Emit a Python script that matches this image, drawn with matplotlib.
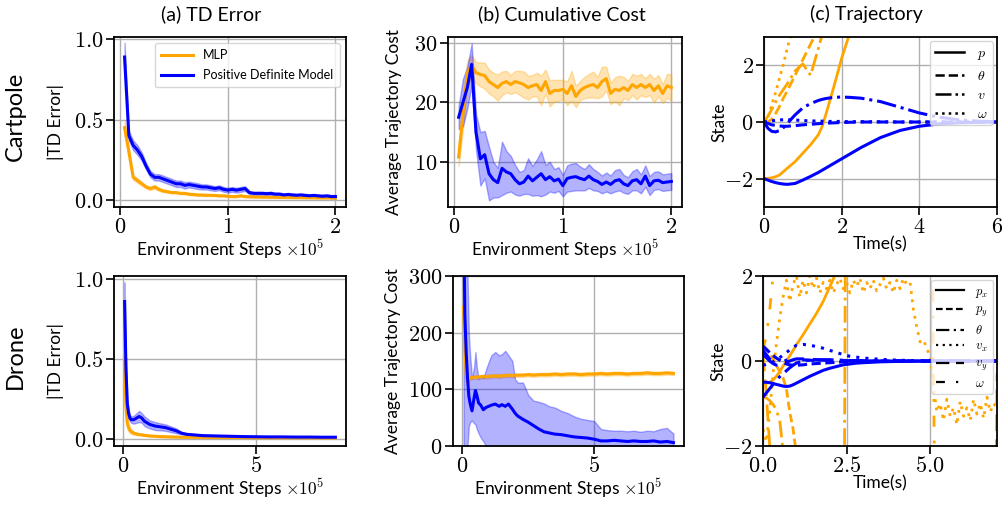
import numpy as np
import matplotlib
matplotlib.use('Agg')
import matplotlib.pyplot as plt
from matplotlib.lines import Line2D

plt.rcParams['font.family'] = ['Lato', 'DejaVu Sans']
plt.rcParams['mathtext.fontset'] = 'cm'

ORANGE = '#FFA500'
BLUE = '#0000FF'

# ---------------- Cartpole learning curves (x in 1e5 env steps) ----------------
steps_cp = [0.04, 0.08, 0.12, 0.16, 0.20, 0.24, 0.28, 0.32, 0.36, 0.40,
            0.44, 0.48, 0.52, 0.56, 0.60, 0.64, 0.68, 0.72, 0.76, 0.80,
            0.84, 0.88, 0.92, 0.96, 1.00, 1.04, 1.08, 1.12, 1.16, 1.20,
            1.24, 1.28, 1.32, 1.36, 1.40, 1.44, 1.48, 1.52, 1.56, 1.60,
            1.64, 1.68, 1.72, 1.76, 1.80, 1.84, 1.88, 1.92, 1.96, 2.00]

td_pd_cp = [0.89, 0.40, 0.34, 0.31, 0.27, 0.21, 0.16, 0.14, 0.14, 0.13,
            0.12, 0.11, 0.10, 0.10, 0.09, 0.095, 0.09, 0.085, 0.08, 0.08,
            0.075, 0.07, 0.075, 0.065, 0.06, 0.065, 0.06, 0.065, 0.07, 0.045,
            0.04, 0.04, 0.04, 0.038, 0.04, 0.035, 0.035, 0.03, 0.033, 0.03,
            0.028, 0.03, 0.027, 0.025, 0.027, 0.024, 0.022, 0.024, 0.02, 0.02]
td_pd_cp_sd = [0.09, 0.03, 0.03, 0.03, 0.025, 0.02, 0.02, 0.02, 0.02, 0.02,
               0.02, 0.02, 0.02, 0.02, 0.02, 0.018, 0.018, 0.018, 0.016, 0.016,
               0.016, 0.015, 0.015, 0.015, 0.015, 0.015, 0.015, 0.015, 0.015, 0.01,
               0.01, 0.01, 0.01, 0.01, 0.01, 0.01, 0.01, 0.01, 0.01, 0.01,
               0.01, 0.01, 0.01, 0.01, 0.01, 0.01, 0.01, 0.01, 0.01, 0.01]
td_mlp_cp = [0.45, 0.30, 0.14, 0.12, 0.10, 0.08, 0.07, 0.08, 0.065, 0.055,
             0.05, 0.045, 0.045, 0.04, 0.04, 0.035, 0.033, 0.03, 0.03, 0.028,
             0.028, 0.027, 0.025, 0.025, 0.022, 0.02, 0.02, 0.025, 0.02, 0.019,
             0.018, 0.018, 0.017, 0.017, 0.016, 0.016, 0.015, 0.015, 0.015, 0.014,
             0.014, 0.014, 0.013, 0.013, 0.013, 0.012, 0.012, 0.012, 0.012, 0.011]
td_mlp_cp_sd = [0.05, 0.03, 0.015, 0.015, 0.012, 0.01, 0.01, 0.012, 0.01, 0.008,
                0.006, 0.006, 0.006, 0.006, 0.006, 0.006, 0.006, 0.006, 0.006, 0.006,
                0.005, 0.005, 0.005, 0.005, 0.005, 0.005, 0.005, 0.005, 0.005, 0.005,
                0.005, 0.005, 0.005, 0.005, 0.005, 0.005, 0.005, 0.005, 0.005, 0.005,
                0.005, 0.005, 0.005, 0.005, 0.005, 0.005, 0.005, 0.005, 0.005, 0.005]

cost_pd_cp = [17.5, 20.0, 22.5, 26.4, 15.0, 10.5, 11.2, 8.0, 7.0, 6.5,
              8.9, 8.3, 8.0, 7.0, 6.3, 6.6, 7.6, 6.8, 7.4, 8.0,
              7.0, 7.5, 6.8, 7.1, 6.0, 7.2, 7.4, 7.5, 7.2, 7.0,
              7.6, 7.0, 6.7, 6.2, 6.6, 6.2, 6.8, 7.0, 6.3, 6.0,
              6.8, 7.0, 6.3, 7.6, 6.0, 6.8, 6.9, 6.5, 6.6, 6.7]
cost_pd_cp_sd = [2.0, 4.0, 3.5, 3.5, 3.0, 4.5, 4.0, 4.5, 3.0, 2.5,
                 4.5, 3.5, 3.0, 2.5, 2.0, 2.0, 3.0, 2.5, 3.0, 3.8,
                 2.5, 2.5, 2.0, 2.0, 1.8, 2.2, 2.3, 2.3, 2.0, 1.8,
                 2.0, 1.8, 1.6, 1.5, 1.6, 1.5, 1.8, 1.8, 1.5, 1.4,
                 1.6, 1.8, 1.6, 1.8, 1.6, 1.5, 1.5, 1.4, 1.4, 1.4]
cost_mlp_cp = [10.8, 18.0, 25.0, 26.2, 25.0, 24.7, 24.5, 23.5, 23.0, 22.5,
               23.2, 23.5, 23.0, 23.5, 23.3, 23.0, 22.5, 22.8, 23.0, 22.0,
               23.5, 21.5, 22.0, 22.0, 22.2, 21.5, 22.8, 21.0, 22.0, 22.5,
               22.8, 23.0, 22.5, 23.5, 24.0, 21.5, 22.2, 22.0, 22.5, 22.0,
               23.0, 22.5, 23.0, 22.5, 23.0, 22.0, 22.8, 21.5, 22.8, 22.5]
cost_mlp_cp_sd = [1.5, 2.5, 2.0, 1.8, 1.8, 2.0, 2.2, 2.0, 2.0, 2.2,
                  2.0, 1.8, 1.6, 1.8, 2.0, 2.2, 2.0, 1.8, 2.0, 2.5,
                  2.0, 2.2, 1.8, 1.8, 1.6, 2.0, 2.5, 1.8, 1.6, 1.8,
                  2.0, 2.2, 1.8, 2.5, 2.0, 1.8, 2.0, 2.5, 1.8, 1.6,
                  1.8, 2.0, 1.8, 1.6, 1.8, 2.0, 1.8, 1.6, 2.0, 2.2]

# ---------------- Drone learning curves ----------------
steps_dr_td = [0.05, 0.1, 0.15, 0.2, 0.25, 0.3, 0.4, 0.5, 0.6, 0.7,
               0.8, 0.9, 1.0, 1.2, 1.4, 1.6, 1.8, 2.0, 2.2, 2.4,
               2.7, 3.0, 3.5, 4.0, 4.5, 5.0, 5.5, 6.0, 6.5, 7.0, 7.5, 8.0]
td_pd_dr = [0.86, 0.45, 0.22, 0.16, 0.13, 0.12, 0.12, 0.13, 0.14, 0.13,
            0.11, 0.10, 0.09, 0.08, 0.075, 0.07, 0.06, 0.05, 0.035, 0.028,
            0.024, 0.02, 0.018, 0.016, 0.014, 0.013, 0.012, 0.012, 0.011, 0.011, 0.010, 0.010]
td_pd_dr_sd = [0.12, 0.06, 0.04, 0.03, 0.02, 0.02, 0.025, 0.03, 0.035, 0.03,
               0.03, 0.028, 0.025, 0.025, 0.022, 0.02, 0.018, 0.015, 0.008, 0.006,
               0.005, 0.005, 0.004, 0.004, 0.004, 0.004, 0.004, 0.004, 0.004, 0.004, 0.004, 0.004]
td_mlp_dr = [0.5, 0.2, 0.1, 0.07, 0.055, 0.045, 0.035, 0.03, 0.027, 0.025,
             0.022, 0.02, 0.018, 0.016, 0.014, 0.013, 0.012, 0.011, 0.01, 0.01,
             0.009, 0.009, 0.008, 0.008, 0.008, 0.007, 0.007, 0.007, 0.007, 0.007, 0.006, 0.006]
td_mlp_dr_sd = [0.1, 0.06, 0.04, 0.025, 0.02, 0.015, 0.01, 0.008, 0.007, 0.006,
                0.005, 0.005, 0.005, 0.004, 0.004, 0.004, 0.004, 0.004, 0.003, 0.003,
                0.003, 0.003, 0.003, 0.003, 0.003, 0.003, 0.003, 0.003, 0.003, 0.003, 0.003, 0.003]

steps_dr_cost = [0.05, 0.1, 0.15, 0.2, 0.25, 0.3, 0.37, 0.45, 0.5, 0.55,
                 0.62, 0.7, 0.8, 0.9, 1.0, 1.1, 1.25, 1.4, 1.5, 1.63,
                 1.75, 1.9, 2.0, 2.1, 2.3, 2.5, 2.7, 2.9, 3.1, 3.3,
                 3.5, 3.75, 4.0, 4.25, 4.5, 4.75, 5.0, 5.25, 5.5, 5.75,
                 6.0, 6.25, 6.5, 6.75, 7.0, 7.25, 7.5, 7.75, 8.0]
cost_pd_dr = [420, 230, 165, 120, 88, 75, 62, 85, 98, 90,
              76, 72, 64, 68, 70, 72, 74, 70, 73, 70,
              74, 65, 58, 53, 47, 42, 36, 30, 25, 23,
              21, 20, 18, 16, 15, 14, 12, 9, 9, 10,
              9, 8, 9, 8, 8, 9, 7, 8, 6]
cost_pd_dr_hi = [600, 500, 400, 300, 200, 160, 120, 140, 166, 140,
                 118, 125, 120, 135, 148, 160, 166, 160, 162, 168,
                 160, 150, 118, 112, 112, 90, 80, 78, 75, 70,
                 68, 62, 58, 52, 48, 46, 44, 30, 28, 27,
                 27, 26, 27, 25, 27, 26, 30, 32, 22]
cost_pd_dr_lo = [-100, -50, -30, 0, 35, 42, 45, 40, 38, 30,
                 22, 15, 8, 0, -5, -10, -15, -20, -20, -25,
                 -20, -20, -20, -20, -20, -20, -20, -20, -20, -20,
                 -20, -20, -20, -20, -20, -20, -20, -20, -20, -20,
                 -20, -20, -20, -20, -20, -20, -20, -20, -20]
cost_mlp_dr = [245, 180, 125, 112, 118, 120, 121, 121, 122, 121,
               122, 122, 123, 122, 123, 123, 124, 123, 124, 124,
               125, 124, 125, 125, 125, 126, 125, 126, 126, 126,
               127, 126, 127, 127, 126, 127, 127, 128, 127, 128,
               128, 127, 128, 128, 129, 128, 128, 129, 128]
cost_mlp_dr_sd = [30, 20, 10, 5, 3, 3, 3, 3, 3, 3,
                  3, 3, 3, 3, 3, 3, 3, 3, 3, 3,
                  3, 3, 3, 3, 3, 3, 3, 3, 3, 3,
                  3, 3, 3, 3, 3, 3, 3, 3, 3, 3,
                  3, 3, 3, 3, 3, 3, 3, 3, 3]

# ---------------- Cartpole trajectories ----------------
t_cp = [0, 0.1, 0.2, 0.3, 0.4, 0.5, 0.6, 0.8, 1.0, 1.2, 1.4, 1.5,
        1.6, 1.8, 2.0, 2.2, 2.5, 3.0, 3.5, 4.0, 4.5, 5.0, 5.5, 6.0]
cp_mlp = {
    'p':     [-2.0, -1.99, -1.97, -1.93, -1.87, -1.75, -1.63, -1.4, -1.1, -0.8, -0.45, -0.15,
              0.3, 1.25, 2.25, 3.1, 4.3, 6, 8, 10, 12, 14, 16, 18],
    'theta': [0, 0.0, 0.1, 0.3, 0.55, 0.85, 1.1, 1.65, 2.2, 2.75, 3.3, 3.6,
              3.9, 4.5, 5.1, 5.7, 6.5, 8, 9.5, 11, 12.5, 14, 15.5, 17],
    'v':     [0, 0.2, 0.45, 0.7, 0.95, 1.15, 1.35, 1.8, 2.05, 1.65, 2.6, 3.1,
              3.6, 4.5, 5.5, 6.5, 8, 10, 12, 14, 16, 18, 20, 22],
    'omega': [0, 0.15, 0.6, 1.05, 1.55, 2.05, 2.6, 3.7, 4.8, 6, 7, 7.5,
              8, 9, 10, 11, 12, 13, 14, 15, 16, 17, 18, 19],
}
cp_pd = {
    'p':     [-2.0, -2.05, -2.1, -2.14, -2.17, -2.19, -2.2, -2.17, -2.05, -1.92, -1.78, -1.7,
              -1.62, -1.46, -1.3, -1.14, -0.9, -0.55, -0.3, -0.15, -0.07, -0.03, -0.01, 0.0],
    'theta': [0, -0.05, -0.1, -0.12, -0.14, -0.15, -0.15, -0.13, -0.1, -0.08, -0.06, -0.05,
              -0.04, -0.03, -0.02, -0.01, 0, 0, 0, 0, 0, 0, 0, 0],
    'v':     [0, -0.22, -0.33, -0.35, -0.3, -0.2, -0.05, 0.25, 0.5, 0.65, 0.76, 0.8,
              0.83, 0.87, 0.88, 0.87, 0.84, 0.72, 0.52, 0.32, 0.17, 0.08, 0.03, 0.01],
    'omega': [0, 0.02, 0.04, 0.06, 0.07, 0.08, 0.08, 0.07, 0.05, 0.04, 0.03, 0.03,
              0.02, 0.02, 0.02, 0.01, 0.01, 0.01, 0, 0, 0, 0, 0, 0],
}
cp_labels = ['$p$', r'$\theta$', '$v$', r'$\omega$']

# ---------------- Drone trajectories ----------------
t_dr = [0, 0.1, 0.2, 0.3, 0.4, 0.5, 0.6, 0.7, 0.8, 0.9, 1.0, 1.2, 1.4, 1.6, 1.8, 2.0,
        2.2, 2.4, 2.5, 2.6, 2.8, 3.0, 3.5, 4.0, 4.5, 5.0, 5.1, 5.2, 5.5, 6.0, 6.5, 6.9, 7.0]
dr_pd = {
    'px':    [-0.5, -0.5, -0.51, -0.53, -0.55, -0.57, -0.59, -0.6, -0.59, -0.56, -0.52, -0.44,
              -0.36, -0.29, -0.22, -0.17, -0.13, -0.09, -0.08, -0.07, -0.05, -0.04, -0.02,
              -0.01, -0.005, 0, 0, 0, 0, 0, 0, 0, 0],
    'py':    [0.35, 0.27, 0.2, 0.13, 0.07, 0.02, -0.03, -0.07, -0.09, -0.1, -0.1, -0.09,
              -0.07, -0.06, -0.05, -0.04, -0.03, -0.02, -0.02, -0.015, -0.01, -0.01, 0,
              0, 0, 0, 0, 0, 0, 0, 0, 0, 0],
    'theta': [-0.85, -0.75, -0.65, -0.55, -0.45, -0.37, -0.3, -0.23, -0.16, -0.1, -0.05, 0.0,
              0.02, 0.03, 0.03, 0.03, 0.02, 0.02, 0.02, 0.01, 0.01, 0.01, 0,
              0, 0, 0, 0, 0, 0, 0, 0, 0, 0],
    'vx':    [-0.1, -0.08, -0.05, -0.02, 0.03, 0.08, 0.14, 0.2, 0.26, 0.32, 0.37, 0.39,
              0.37, 0.34, 0.3, 0.25, 0.2, 0.15, 0.13, 0.11, 0.09, 0.07, 0.04,
              0.02, 0.01, 0, 0, 0, 0, 0, 0, 0, 0],
    'vy':    [0.15, 0.08, 0.0, -0.06, -0.1, -0.1, -0.07, -0.03, 0.0, 0.03, 0.05, 0.05,
              0.04, 0.03, 0.02, 0.02, 0.01, 0.01, 0.01, 0, 0, 0, 0,
              0, 0, 0, 0, 0, 0, 0, 0, 0, 0],
    'omega': [0.25, 0.15, 0.05, -0.02, -0.05, -0.05, -0.02, 0.02, 0.05, 0.06, 0.05, 0.03,
              0.02, 0.01, 0.01, 0, 0, 0, 0, 0, 0, 0, 0,
              0, 0, 0, 0, 0, 0, 0, 0, 0, 0],
}
dr_mlp = {
    'px':    [-0.5, -0.52, -0.5, -0.45, -0.36, -0.25, -0.12, 0.0, 0.12, 0.25, 0.38, 0.62,
              0.87, 1.12, 1.4, 1.75, 2.1, 2.5, 2.7, 2.9, 3.3, 3.7, 4.7,
              5.7, 6.7, 7.7, 7.9, 8.1, 8.7, 9.7, 10.7, 11.5, 11.7],
    'py':    [0.35, 0.3, 0.2, 0.05, -0.1, -0.25, -0.4, -0.65, -1.2, -1.6, -2.2, -3.5,
              -4.5, -5.5, -6.5, -7, -7.5, -8, -8, -8, -8, -8, -8,
              -8, -8, -8, -8, -8, -8, -8, -8, -8, -8],
    'theta': [-0.85, -0.87, -0.93, -1.02, -1.15, -1.4, -2.1, -3.0, -4, -5, -6, -7,
              -7.5, -8, -8, -8, -8, -9, 9, 9, 9, 9, 9,
              9, 9, 9, 9, 9, 9, 9, 9, 9, 9],
    'vy':    [0.15, -0.8, -2.0, -3.5, -5, -6, -7, -8, -9, -9, -9, -9,
              -9, -9, -9, -9, -9, -9, -9, -9, -9, -9, -9,
              -9, -9, -9, -9, -9, -9, -9, -9, -9, -0.3],
    'omega': [0.25, 0.6, 1.2, 2.0, 3.0, 4.0, 5.0, 6.0, 7.0, 8.0, 9.0, 9.0,
              9, 9, 9, 9, 9, 9, 9, 9, 9, 9, 9,
              9, 9, 9, 0, -9, -9, -9, -9, -9, -9],
}
t_dr_fine = [0.0, 0.1, 0.2, 0.3, 0.4, 0.5, 0.6, 0.7, 0.8, 0.9,
             1.0, 1.1, 1.2, 1.3, 1.4, 1.5, 1.6, 1.7, 1.8, 1.9,
             2.0, 2.1, 2.2, 2.3, 2.4, 2.5, 2.6, 2.7, 2.8, 2.9,
             3.0, 3.1, 3.2, 3.3, 3.4, 3.5, 3.6, 3.7, 3.8, 3.9,
             4.0, 4.1, 4.2, 4.3, 4.4, 4.5, 4.6, 4.7, 4.8, 4.9,
             5.0, 5.1, 5.2, 5.3, 5.4, 5.5, 5.6, 5.7, 5.8, 5.9,
             6.0, 6.1, 6.2, 6.3, 6.4, 6.5, 6.6, 6.7, 6.8, 6.9, 7.0]
dr_mlp_vx = [-1.6, -1.9, -1.2, -0.3, 0.4, 1.0, 1.5, 1.9, 1.4, 1.8,
             2.0, 1.5, 1.9, 1.6, 2.0, 1.7, 1.95, 1.6, 1.85, 1.7,
             1.9, 1.6, 1.8, 1.95, 1.7, 1.85, 1.6, 1.9, 1.75, 1.95,
             1.6, 1.85, 1.7, 1.9, 1.65, 1.8, 1.95, 1.7, 1.85, 1.6,
             1.9, 1.7, 1.95, 1.8, 1.85, 1.2, 0.8, 0.45, 0.5, 0.3,
             0.1, -0.6, -1.2, -1.0, -1.4, -0.9, -1.3, -1.1, -1.5, -0.95,
             -1.3, -1.1, -1.4, -0.9, -1.25, -1.0, -1.35, -0.85, -1.2, -1.0, -1.1]
dr_labels = ['$p_x$', '$p_y$', r'$\theta$', '$v_x$', '$v_y$', r'$\omega$']

# ---------------- tick labels ----------------
ticks_td = [0.0, 0.5, 1.0]
ticklab_td = ['$0.0$', '$0.5$', '$1.0$']
ticks_cp_x = [0, 1, 2]
ticklab_cp_x = ['$0$', '$1$', '$2$']
ticks_dr_x = [0, 5]
ticklab_dr_x = ['$0$', '$5$']
ticks_cost_cp = [10, 20, 30]
ticklab_cost_cp = ['$10$', '$20$', '$30$']
ticks_cost_dr = [0, 100, 200, 300]
ticklab_cost_dr = ['$0$', '$100$', '$200$', '$300$']
ticks_state_cp_y = [-2, 0, 2]
ticklab_state_cp_y = ['$-2$', '$0$', '$2$']
ticks_state_cp_x = [0, 2, 4, 6]
ticklab_state_cp_x = ['$0$', '$2$', '$4$', '$6$']
ticks_state_dr_y = [-2, 0, 2]
ticklab_state_dr_y = ['$-2$', '$0$', '$2$']
ticks_state_dr_x = [0.0, 2.5, 5.0]
ticklab_state_dr_x = ['$0.0$', '$2.5$', '$5.0$']

# ---------------- figure ----------------
W, Hp = 1002, 505
fig = plt.figure(figsize=(W / 100, Hp / 100), dpi=100)
h = 170 / Hp
b1 = 1 - 207 / Hp
b2 = 1 - 446 / Hp
ax_a1 = fig.add_axes([114 / W, b1, 232 / W, h])
ax_b1 = fig.add_axes([448 / W, b1, 234 / W, h])
ax_c1 = fig.add_axes([764 / W, b1, 233 / W, h])
ax_a2 = fig.add_axes([114 / W, b2, 232 / W, h])
ax_b2 = fig.add_axes([453 / W, b2, 231 / W, h])
ax_c2 = fig.add_axes([763 / W, b2, 234 / W, h])

TICKFS = 16
LABFS = 12.5
TITFS = 14


def style(ax):
    ax.grid(True, color='#b0b0b0', lw=1)
    ax.set_axisbelow(True)
    for s in ax.spines.values():
        s.set_linewidth(1.3)
    ax.tick_params(length=5.5, width=1.2, pad=2.0, labelsize=TICKFS)


def band(ax, x, m, sd, color):
    m = np.asarray(m, float)
    sd = np.asarray(sd, float)
    ax.fill_between(x, m - sd, m + sd, color=color, alpha=0.3, lw=1)
    ax.plot(x, m, color=color, lw=2.2)


XLAB = r'Environment Steps $\times 10^5$'

# (a) cartpole TD
style(ax_a1)
band(ax_a1, steps_cp, td_mlp_cp, td_mlp_cp_sd, ORANGE)
band(ax_a1, steps_cp, td_pd_cp, td_pd_cp_sd, BLUE)
ax_a1.set_xlim(-0.058, 2.098)
ax_a1.set_ylim(-0.045, 1.015)
ax_a1.set_xticks(ticks_cp_x, ticklab_cp_x)
ax_a1.set_yticks(ticks_td, ticklab_td)
ax_a1.set_ylabel('|TD Error|', fontsize=LABFS, labelpad=7)
ax_a1.set_xlabel(XLAB, fontsize=LABFS, labelpad=0.5)
ax_a1.set_title('(a) TD Error', fontsize=TITFS, pad=12, x=0.42)
ax_a1.legend(handles=[Line2D([], [], color=ORANGE, lw=2.2, label='MLP'),
                      Line2D([], [], color=BLUE, lw=2.2, label='Positive Definite Model')],
             loc='upper right', fontsize=9, handlelength=2.6, borderaxespad=0.5,
             labelspacing=0.6, borderpad=0.5)

# (b) cartpole cost
style(ax_b1)
band(ax_b1, steps_cp, cost_mlp_cp, cost_mlp_cp_sd, ORANGE)
band(ax_b1, steps_cp, cost_pd_cp, cost_pd_cp_sd, BLUE)
ax_b1.set_xlim(-0.058, 2.098)
ax_b1.set_ylim(2.4, 31.0)
ax_b1.set_xticks(ticks_cp_x, ticklab_cp_x)
ax_b1.set_yticks(ticks_cost_cp, ticklab_cost_cp)
ax_b1.set_ylabel('Average Trajectory Cost', fontsize=LABFS, labelpad=9)
ax_b1.set_xlabel(XLAB, fontsize=LABFS, labelpad=0.5)
ax_b1.set_title('(b) Cumulative Cost', fontsize=TITFS, pad=12, x=0.487)

# (c) cartpole trajectory
style(ax_c1)
cp_styles = ['-', '--', '-.', ':']
for key, ls in zip(['p', 'theta', 'v', 'omega'], cp_styles):
    ax_c1.plot(t_cp, cp_mlp[key], color=ORANGE, ls=ls, lw=2)
for key, ls in zip(['p', 'theta', 'v', 'omega'], cp_styles):
    ax_c1.plot(t_cp, cp_pd[key], color=BLUE, ls=ls, lw=2.2)
ax_c1.set_xlim(0, 6)
ax_c1.set_ylim(-3, 3)
ax_c1.set_xticks(ticks_state_cp_x, ticklab_state_cp_x)
ax_c1.set_yticks(ticks_state_cp_y, ticklab_state_cp_y)
ax_c1.set_ylabel('State', fontsize=LABFS, labelpad=-2)
ax_c1.set_xlabel('Time(s)', fontsize=LABFS, labelpad=-1)
ax_c1.set_title('(c) Trajectory', fontsize=TITFS, pad=12, x=0.44)
ax_c1.legend(handles=[Line2D([], [], color='black', ls=ls, lw=1.8, label=lab)
                      for ls, lab in zip(cp_styles, cp_labels)],
             loc='upper right', fontsize=10, handlelength=2.1, borderaxespad=0.3,
             labelspacing=0.5, handletextpad=0.9)

# (a) drone TD
style(ax_a2)
band(ax_a2, steps_dr_td, td_mlp_dr, td_mlp_dr_sd, ORANGE)
band(ax_a2, steps_dr_td, td_pd_dr, td_pd_dr_sd, BLUE)
ax_a2.set_xlim(-0.35, 8.4)
ax_a2.set_ylim(-0.045, 1.02)
ax_a2.set_xticks(ticks_dr_x, ticklab_dr_x)
ax_a2.set_yticks(ticks_td, ticklab_td)
ax_a2.set_ylabel('|TD Error|', fontsize=LABFS, labelpad=7)
ax_a2.set_xlabel(XLAB, fontsize=LABFS, labelpad=0.5)

# (b) drone cost
style(ax_b2)
band(ax_b2, steps_dr_cost, cost_mlp_dr, cost_mlp_dr_sd, ORANGE)
ax_b2.fill_between(steps_dr_cost, cost_pd_dr_lo, cost_pd_dr_hi, color=BLUE, alpha=0.3, lw=1)
ax_b2.plot(steps_dr_cost, cost_pd_dr, color=BLUE, lw=2.2)
ax_b2.set_xlim(-0.35, 8.4)
ax_b2.set_ylim(0, 300)
ax_b2.set_xticks(ticks_dr_x, ticklab_dr_x)
ax_b2.set_yticks(ticks_cost_dr, ticklab_cost_dr)
ax_b2.set_ylabel('Average Trajectory Cost', fontsize=LABFS, labelpad=5)
ax_b2.set_xlabel(XLAB, fontsize=LABFS, labelpad=0.5)

# (c) drone trajectory
style(ax_c2)
dr_styles = ['-', (0, (3, 1.5)), (0, (6, 2, 1, 2)), (0, (1, 2)), (0, (6, 3)), (0, (4, 5, 1, 5))]
dr_keys = ['px', 'py', 'theta', 'vx', 'vy', 'omega']
for key, ls in zip(dr_keys, dr_styles):
    if key == 'vx':
        ax_c2.plot(t_dr_fine, dr_mlp_vx, color=ORANGE, ls=ls, lw=2)
    else:
        ax_c2.plot(t_dr, dr_mlp[key], color=ORANGE, ls=ls, lw=2)
for key, ls in zip(dr_keys, dr_styles):
    ax_c2.plot(t_dr, dr_pd[key], color=BLUE, ls=ls, lw=2.2)
ax_c2.set_xlim(0, 7)
ax_c2.set_ylim(-2, 2)
ax_c2.set_xticks(ticks_state_dr_x, ticklab_state_dr_x)
ax_c2.set_yticks(ticks_state_dr_y, ticklab_state_dr_y)
ax_c2.set_ylabel('State', fontsize=LABFS, labelpad=-2)
ax_c2.set_xlabel('Time(s)', fontsize=LABFS, labelpad=-1)
ax_c2.legend(handles=[Line2D([], [], color='black', ls=ls, lw=1.6, label=lab)
                      for ls, lab in zip(dr_styles, dr_labels)],
             loc='upper right', fontsize=9, handlelength=2.2, borderaxespad=0.3,
             labelspacing=0.28, handletextpad=0.9)

fig.text(15 / W, 1 - 116 / Hp, 'Cartpole', rotation=90, va='center', ha='center', fontsize=17)
fig.text(15 / W, 1 - 356 / Hp, 'Drone', rotation=90, va='center', ha='center', fontsize=17)

fig.savefig('out.png', dpi=100)
